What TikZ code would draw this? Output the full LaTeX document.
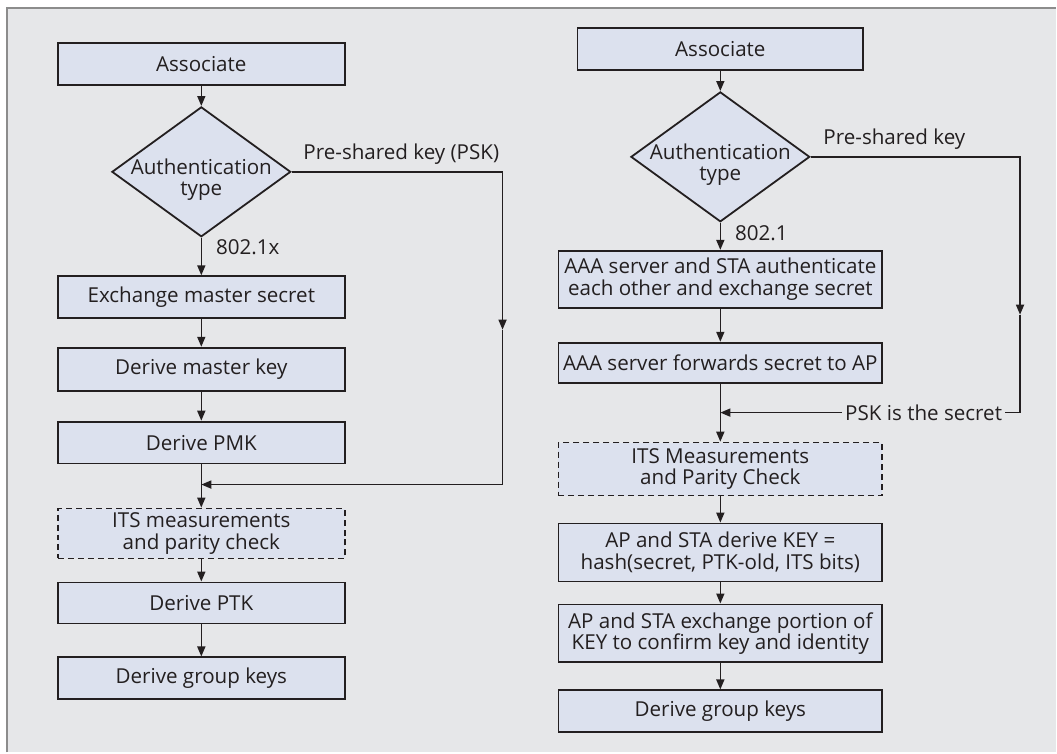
\documentclass[tikz,border=0pt]{standalone}
\usepackage{fontspec}
\setmainfont{Open Sans}
\usetikzlibrary{shapes.geometric,arrows.meta}
\definecolor{boxfill}{HTML}{DCE1EE}
\definecolor{panel}{HTML}{E6E7E9}
\definecolor{ink}{HTML}{231F20}
\definecolor{rim}{HTML}{8C8C8C}

\begin{document}
\begin{tikzpicture}[
		x=0.5pt, y=-0.5pt,
		every node/.style={font=\fontsize{10.3}{10.8}\selectfont, text=ink},
		stepbox/.style={draw=ink, line width=0.9pt, fill=boxfill, minimum height=21pt, align=center, inner sep=0pt},
		lbox/.style={stepbox, minimum width=143.5pt},
		rbox/.style={stepbox, minimum width=162pt},
		dashbox/.style={dash pattern=on 3pt off 2pt},
		decide/.style={diamond, draw=ink, line width=0.9pt, fill=boxfill, minimum width=89.5pt, minimum height=65pt, inner sep=0pt},
		flow/.style={draw=ink, line width=0.8pt, -{Triangle[length=5pt,width=4pt]}},
		wire/.style={draw=ink, line width=0.8pt}
	]
	% panel
	\fill[white] (0,0) rectangle (1057,753);
	\fill[panel] (7,8) rectangle (1057,753);
	\draw[rim, line width=1pt] (7,753) -- (7,8) -- (1057,8);

	% left flow
	\node[lbox] (lassoc) at (201.5,64) {Associate};
	\node[decide] (lauth) at (201.5,172) {};
	\node[align=center, inner sep=0pt] (lauthtxt) at (201.5,180) {Authentication\\type};
	\node[lbox] (lexch) at (201.5,297.5) {Exchange master secret};
	\node[lbox, minimum height=21.5pt] (lmkey) at (201.5,369.5) {Derive master key};
	\node[lbox] (lpmk) at (201.5,443) {Derive PMK};
	\node[lbox, dashbox, minimum height=25pt] (lits) at (201.5,534) {ITS measurements\\and parity check};
	\node[lbox, minimum height=20.5pt] (lptk) at (201.5,603.5) {Derive PTK};
	\node[lbox] (lgrp) at (201.5,679) {Derive group keys};
	\coordinate (lmid) at (503,330);
	\coordinate (lcorner) at (503,485);
	\coordinate (ljoin) at (201.5,485);

	\draw[flow] (lassoc) -- (lauth);
	\draw[flow] (lauth) -- node[pos=0.25, anchor=west, inner sep=7pt] {802.1x} (lexch);
	\draw[flow] (lexch) -- (lmkey);
	\draw[flow] (lmkey) -- (lpmk);
	\draw[flow] (lpmk) -- (lits);
	\draw[flow] (lits) -- (lptk);
	\draw[flow] (lptk) -- (lgrp);
	\draw[flow] (lauth.east) -- node[above, pos=0.52] {Pre-shared key (PSK)} (lauth.east -| lmid) -- (lmid);
	\draw[flow] (lmid) -- (lcorner) -- (ljoin);

	% right flow
	\node[stepbox, minimum width=143pt] (rassoc) at (721,49) {Associate};
	\node[decide] (rauth) at (721,157) {};
	\node[align=center, inner sep=0pt] (rauthtxt) at (721,165) {Authentication\\type};
	\node[rbox, minimum height=28.5pt] (raaa) at (721,279.5) {AAA server and STA authenticate\\each other and exchange secret};
	\node[rbox, minimum height=20pt] (rfwd) at (721,363) {AAA server forwards secret to AP};
	\node[rbox, dashbox, minimum height=26.5pt] (rits) at (721,469.5) {ITS Measurements\\and Parity Check};
	\node[rbox, minimum height=29pt] (rkey) at (721,553) {AP and STA derive KEY =\\hash(secret, PTK-old, ITS bits)};
	\node[rbox, minimum height=29pt] (rconf) at (721,634) {AP and STA exchange portion of\\KEY to confirm key and identity};
	\node[rbox] (rgrp) at (721,712) {Derive group keys};
	\node[inner sep=1.5pt] (rpsk) at (924.5,413) {PSK is the secret};
	\coordinate (rmid) at (1021,315);
	\coordinate (rcorner) at (1021,413);
	\coordinate (rjoin) at (721,413);

	\draw[flow] (rassoc) -- (rauth);
	\draw[flow] (rauth) -- node[pos=0.4, anchor=west, inner sep=7pt] {802.1} (raaa);
	\draw[flow] (raaa) -- (rfwd);
	\draw[flow] (rfwd) -- (rits);
	\draw[flow] (rits) -- (rkey);
	\draw[flow] (rkey) -- (rconf);
	\draw[flow] (rconf) -- (rgrp);
	\draw[flow] (rauth.east) -- node[above, pos=0.4] {Pre-shared key} (rauth.east -| rmid) -- (rmid);
	\draw[wire] (rmid) -- (rcorner) -- (rpsk.east);
	\draw[flow] (rpsk.west) -- (rjoin);
\end{tikzpicture}
\end{document}
